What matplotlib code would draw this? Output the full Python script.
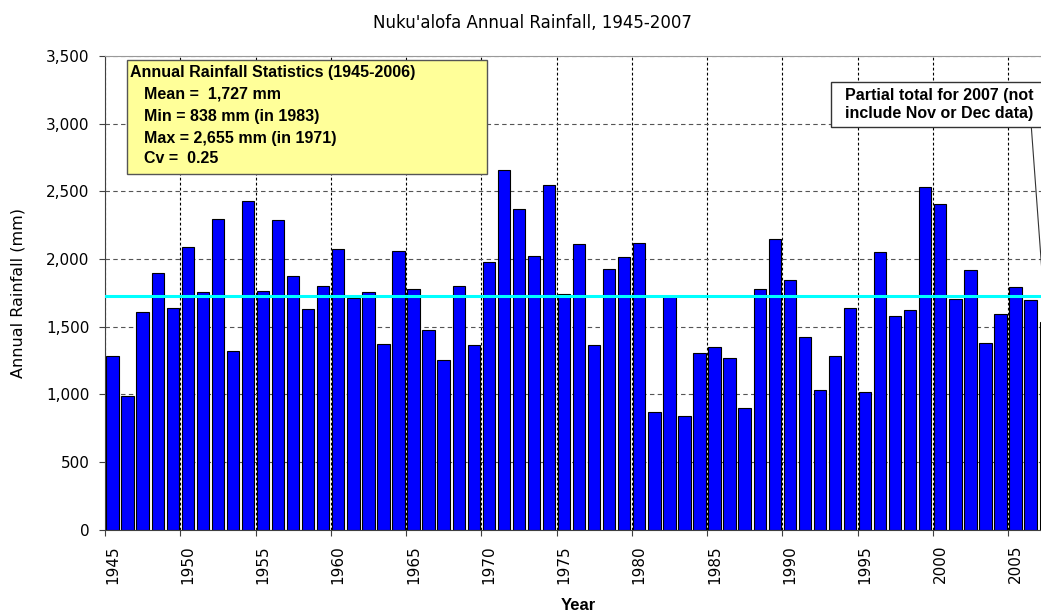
import matplotlib
matplotlib.use("Agg")
import matplotlib.pyplot as plt
from matplotlib.patches import Rectangle
from matplotlib.ticker import FixedLocator, NullFormatter, StrMethodFormatter

# annual totals, Nuku'alofa (mm); 2007 is a partial year
years = list(range(1945, 2008))
rainfall = [
    1281, 985, 1606, 1894, 1635, 2088, 1758, 2297, 1322, 2428,
    1766, 2290, 1871, 1628, 1798, 2073, 1710, 1758, 1372, 2058,
    1775, 1475, 1251, 1798, 1362, 1975, 2655, 2369, 2021, 2548,
    1745, 2112, 1362, 1926, 2014, 2120, 869, 1728, 838, 1307,
    1352, 1266, 897, 1775, 2145, 1847, 1426, 1034, 1281, 1637,
    1015, 2049, 1581, 1620, 2531, 2403, 1702, 1920, 1381, 1595,
    1790, 1694, 1532,
]
partial_year = 2007
mean_rain = 1727

stats_lines = [
    "Annual Rainfall Statistics (1945-2006)",
    "Mean =  1,727 mm",
    "Min = 838 mm (in 1983)",
    "Max = 2,655 mm (in 1971)",
    "Cv =  0.25",
]
partial_note = "Partial total for 2007 (not\ninclude Nov or Dec data)"

W, H = 1041, 614
fig = plt.figure(figsize=(W / 100, H / 100), dpi=100)
# plot area runs past the right edge of the image
ax = fig.add_axes([105 / W, 1 - 529.7 / H, 948.2 / W, 473.7 / H])

bar_colors = ["#FFCC00" if y == partial_year else "#0000FF" for y in years]
ax.bar(years, rainfall, width=0.82, color=bar_colors, edgecolor="black",
       linewidth=0.8, zorder=2)
ax.axhline(mean_rain, color="#00FFFF", lw=2.2, zorder=3)

ax.set_xlim(years[0] - 0.5, years[-1] + 0.5)
ax.set_ylim(0, 3500)

# ticks sit between categories, labels under every 5th year
label_years = [y for y in years if (y - 1945) % 5 == 0]
ax.xaxis.set_major_locator(FixedLocator([y - 0.5 for y in label_years]))
ax.xaxis.set_major_formatter(NullFormatter())
ax.set_xticks(label_years, minor=True)
ax.set_xticklabels([str(y) for y in label_years], minor=True, rotation=90,
                   fontsize=11)
ax.tick_params(axis="x", which="minor", length=0, pad=11)
ax.tick_params(axis="x", which="major", length=4, color="#404040")

ax.set_yticks(range(0, 3501, 500))
ax.yaxis.set_major_formatter(StrMethodFormatter("{x:,.0f}"))
ax.tick_params(axis="y", length=4, pad=7, labelsize=11, color="#404040")

ax.set_axisbelow(True)
ax.grid(axis="x", which="major", color="black", ls=(0, (2.5, 2)), lw=0.8)
ax.grid(axis="y", color="#555555", ls=(0, (4, 3)), lw=0.8)

for side in ["left", "bottom"]:
    ax.spines[side].set_color("#404040")
ax.spines["top"].set_color("#999999")
ax.spines["right"].set_visible(False)

# statistics box
ax.add_patch(Rectangle((0.0232, 0.7509), 0.3797, 0.2407, transform=ax.transAxes,
                       facecolor="#FFFF99", edgecolor="#555555", lw=1,
                       zorder=5, clip_on=False))
line_y = [0.9656, 0.9198, 0.8733, 0.8263, 0.7826]
for i, (txt, yy) in enumerate(zip(stats_lines, line_y)):
    xx = 0.0264 if i == 0 else 0.0411
    ax.text(xx, yy, txt, transform=ax.transAxes, ha="left", va="center",
            family="Liberation Sans", weight="bold", fontsize=11.5, zorder=6)

# note about the incomplete 2007 total
ax.add_patch(Rectangle((0.7653, 0.8495), 0.2295, 0.0962, transform=ax.transAxes,
                       facecolor="white", edgecolor="#333333", lw=1,
                       zorder=5, clip_on=False))
ax.text(0.880, 0.8983, partial_note, transform=ax.transAxes, ha="center",
        va="center", family="Liberation Sans", weight="bold", fontsize=11.5,
        linespacing=1.25, zorder=6)
ax.annotate("", xy=(partial_year, rainfall[-1]), xytext=(0.9769, 0.8507),
            textcoords="axes fraction", annotation_clip=False,
            arrowprops=dict(arrowstyle="-", color="#333333", lw=0.8,
                            shrinkA=0, shrinkB=0))

fig.text(532.5 / W, 1 - 22.5 / H, "Nuku'alofa Annual Rainfall, 1945-2007",
         ha="center", va="center", fontsize=12)
fig.text(18 / W, 1 - 292.5 / H, "Annual Rainfall (mm)", rotation=90,
         ha="center", va="center", fontsize=11.5)
fig.text(578 / W, 1 - 606 / H, "Year", ha="center", va="center",
         family="Liberation Sans", weight="bold", fontsize=12)

fig.savefig("out.png", dpi=100)
